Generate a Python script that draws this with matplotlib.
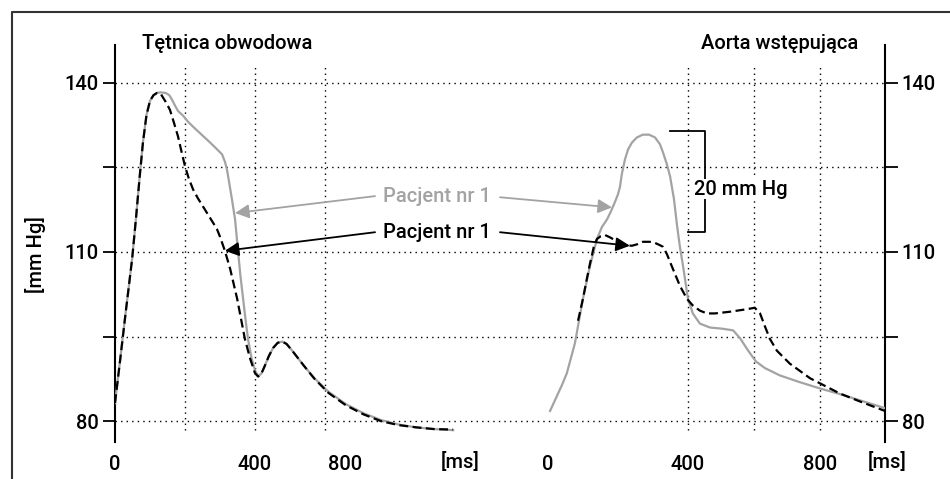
import matplotlib
matplotlib.use("Agg")
import matplotlib.pyplot as plt
from matplotlib.lines import Line2D

plt.rcParams['font.family'] = ['Roboto', 'DejaVu Sans']
plt.rcParams['font.weight'] = 'medium'

# ---------------- data ----------------
# left panel: Tętnica obwodowa (time ms, pressure mmHg)
art_gray_t = [0, 15, 30, 49, 60, 70, 80, 90, 100, 110, 120, 130, 145, 155, 163, 171, 180, 194, 210,
              230, 251, 270, 290, 306, 314, 320, 327, 334, 343, 351, 358, 366, 373, 380, 390, 400,
              409, 418, 428, 440, 452, 465, 478, 490, 505, 520, 540, 570, 610, 660, 710, 760, 810,
              860, 910, 966]
art_gray_p = [83.2, 91.0, 99.0, 108.8, 116.0, 123.0, 129.5, 134.3, 136.8, 137.8, 138.2, 138.3, 138.2,
              137.8, 137.0, 136.0, 135.0, 134.2, 133.0, 131.8, 130.6, 129.5, 128.3, 127.3, 126.0,
              124.6, 122.0, 119.4, 115.8, 110.5, 106.0, 101.7, 98.0, 94.6, 91.2, 89.0, 88.0, 88.4,
              89.8, 91.6, 93.0, 93.9, 94.1, 93.7, 92.6, 91.4, 89.8, 87.6, 85.2, 83.0, 81.4, 80.2,
              79.4, 78.9, 78.6, 78.4]
art_dash_t = [0, 15, 30, 49, 60, 70, 80, 90, 100, 110, 120, 130, 137, 145, 157, 168, 180, 190, 200,
              211, 223, 237, 251, 270, 291, 300, 314, 329, 349, 371, 386, 400, 409, 418, 428, 440,
              452, 465, 478, 490, 505, 520, 540, 570, 610, 660, 710, 760, 810, 860, 910, 966]
art_dash_p = [83.2, 91.0, 99.0, 108.8, 116.0, 123.0, 129.5, 134.3, 136.8, 137.8, 138.2, 138.1, 137.4,
              136.6, 135.2, 133.0, 130.5, 127.8, 125.2, 123.0, 121.1, 119.5, 118.1, 116.2, 114.1,
              112.7, 110.2, 107.0, 101.7, 94.6, 91.1, 88.5, 87.9, 88.4, 89.8, 91.6, 93.0, 93.9, 94.1,
              93.7, 92.6, 91.4, 89.8, 87.5, 85.0, 82.8, 81.2, 80.0, 79.3, 78.9, 78.6, 78.5]

# right panel: Aorta wstępująca
aor_gray_t = [6, 23, 40, 54, 77, 100, 120, 140, 154, 169, 180, 191, 200, 206, 211, 220, 229, 240, 254,
              271, 289, 306, 320, 329, 340, 349, 360, 369, 377, 386, 400, 414, 434, 463, 497, 529,
              549, 571, 594, 620, 663, 720, 777, 834, 891, 963]
aor_gray_p = [81.8, 84.1, 86.4, 88.5, 93.8, 101.7, 107.5, 112.3, 114.4, 115.8, 117.2, 118.8, 120.2,
              121.6, 123.8, 126.4, 128.2, 129.4, 130.3, 130.8, 130.8, 130.3, 129.1, 127.6, 125.5,
              123.4, 119.4, 114.6, 110.9, 107.5, 101.7, 99.1, 97.3, 96.6, 96.4, 96.1, 94.7, 92.6,
              90.6, 89.4, 88.1, 86.9, 85.8, 84.8, 83.7, 82.3]
aor_dash_t = [86, 100, 111, 120, 131, 140, 151, 163, 177, 191, 206, 223, 240, 257, 271, 291, 306, 320,
              329, 340, 349, 363, 377, 397, 414, 434, 454, 477, 520, 563, 591, 606, 620, 634, 654,
              691, 749, 834, 891, 963]
aor_dash_p = [97.8, 101.7, 105.2, 107.9, 110.9, 112.3, 112.8, 113.0, 112.6, 112.1, 111.8, 111.2,
              111.1, 111.4, 111.8, 111.8, 111.6, 111.2, 110.9, 109.6, 108.2, 106.1, 104.0, 101.7,
              100.5, 99.6, 99.1, 99.1, 99.4, 99.8, 100.1, 99.1, 96.8, 94.6, 92.5, 90.2, 87.6, 84.9,
              83.5, 81.8]

y_ticks = [80, 95, 110, 125, 140]
y_ticklabels = ['80', '', '110', '', '140']
left_xtick_pos = [0, 400, 657]
right_xtick_pos = [0, 400, 777]
xtick_labels = ['0', '400', '800']
left_vgrid = [200, 400, 600]
right_vgrid = [400, 589, 777]
titles = ['Tętnica obwodowa', 'Aorta wstępująca']
label_text = 'Pacjent nr 1'

RIGHT_OFFSET = 1237  # horizontal offset of right panel on the shared axis

# ---------------- figure ----------------
fig = plt.figure(figsize=(9.5, 4.79), dpi=100)
W, H = 950, 479
ax = fig.add_axes([115 / W, 1 - 442 / H, 770 / W, 397 / H])
ax.set_xlim(0, 2200)
ax.set_ylim(76.3, 146.7)

gray = '#a3a3a3'
fs = 14.5

def rx(vals):
    return [v + RIGHT_OFFSET for v in vals]

# grid
for yv in y_ticks:
    ax.axhline(yv, color='black', lw=1.0, ls=(0, (1, 3)), zorder=1)
for xv in left_vgrid + rx(right_vgrid):
    ax.vlines(xv, 78.4, 143.2, color='black', lw=1.0, ls=(0, (1, 3)), zorder=1)

# curves
ax.plot(art_gray_t, art_gray_p, color=gray, lw=1.6, zorder=3, solid_joinstyle='round')
ax.plot(art_dash_t, art_dash_p, color='black', lw=1.6, ls=(0, (4, 2)), zorder=4)
ax.plot(rx(aor_gray_t), aor_gray_p, color=gray, lw=1.6, zorder=3, solid_joinstyle='round')
ax.plot(rx(aor_dash_t), aor_dash_p, color='black', lw=1.6, ls=(0, (4, 2)), zorder=4)

# spines / ticks
for s in ['top', 'bottom']:
    ax.spines[s].set_visible(False)
for s in ['left', 'right']:
    ax.spines[s].set_linewidth(1.5)
ax.set_yticks(y_ticks)
ax.set_yticklabels(y_ticklabels)
ax.tick_params(axis='y', which='both', left=True, right=True, labelleft=True, labelright=True,
               direction='out', length=9, width=1.3, labelsize=fs, pad=3)
ax.set_xticks(left_xtick_pos + rx(right_xtick_pos))
ax.set_xticklabels(xtick_labels + xtick_labels)
ax.tick_params(axis='x', length=0, labelsize=fs, pad=9)
for xv in [986, RIGHT_OFFSET + 969]:
    ax.annotate('[ms]', xy=(xv, 0), xycoords=('data', 'axes fraction'), xytext=(0, -14.5),
                textcoords='offset points', ha='center', va='center', fontsize=fs,
                annotation_clip=False)

# titles
ax.text(320, 147.0, titles[0], ha='center', va='center', fontsize=fs)
ax.text(RIGHT_OFFSET + 663, 147.0, titles[1], ha='center', va='center', fontsize=fs)

# y label
fig.text(35 / W, 1 - 255 / H, '[mm Hg]', rotation=90, ha='center', va='center', fontsize=fs)

# annotations
ax.text(920, 119.9, label_text, color=gray, ha='center', va='center', fontsize=fs)
ax.text(920, 113.5, label_text, color='black', ha='center', va='center', fontsize=fs)
arrow_kw = dict(arrowstyle='-|>', lw=1.3, mutation_scale=21, shrinkA=0, shrinkB=0)
ax.annotate('', xy=(343, 116.9), xytext=(743, 119.9), arrowprops=dict(color=gray, **arrow_kw))
ax.annotate('', xy=(1420, 117.9), xytext=(1100, 119.7), arrowprops=dict(color=gray, **arrow_kw))
ax.annotate('', xy=(314, 110.2), xytext=(743, 113.5), arrowprops=dict(color='black', **arrow_kw))
ax.annotate('', xy=(1471, 111.1), xytext=(1100, 113.5), arrowprops=dict(color='black', **arrow_kw))

# 20 mm Hg bracket
bx = RIGHT_OFFSET + 449
ax.plot([RIGHT_OFFSET + 349, bx, bx, RIGHT_OFFSET + 400], [131.4, 131.4, 113.5, 113.5],
        color='black', lw=1.3, zorder=5)
ax.text(RIGHT_OFFSET + 417, 121.1, '20 mm Hg', ha='left', va='center', fontsize=fs,
        bbox=dict(facecolor='white', edgecolor='none', pad=0.5), zorder=6)

# frame lines
fig.add_artist(Line2D([12 / W, 12 / W, 1.0], [0, 1 - 12 / H, 1 - 12 / H], color='#333333', lw=1.5,
                      transform=fig.transFigure))

fig.savefig('out.png', dpi=100)
